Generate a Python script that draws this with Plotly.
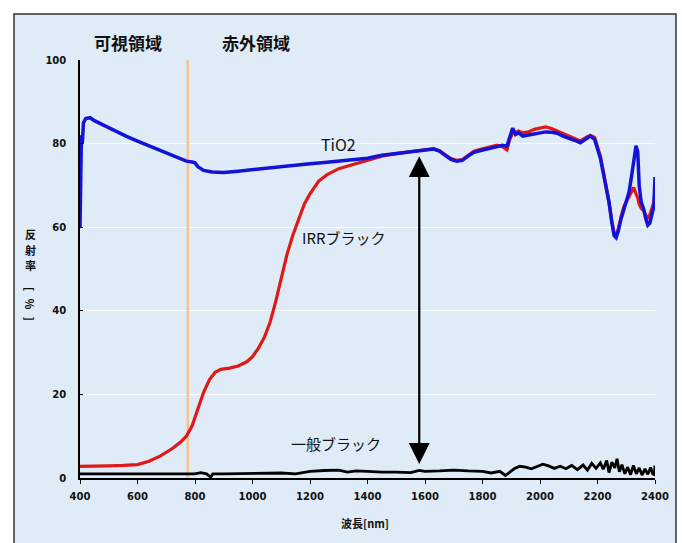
import plotly.graph_objects as go

# Reflectance spectra (wavelength in nm, reflectance in %)
tio2_wl = [400, 402, 405, 408, 412, 420, 435, 450, 470, 500, 530, 560, 600, 640, 680, 720, 750, 770,
           790, 800, 810, 830, 860, 900, 950, 1000, 1050, 1100, 1150, 1200, 1250, 1300, 1350, 1400,
           1450, 1500, 1550, 1600, 1630, 1650, 1670, 1690, 1710, 1730, 1750, 1770, 1790, 1810, 1830,
           1850, 1870, 1885, 1895, 1905, 1915, 1925, 1940, 1960, 1980, 2000, 2020, 2040, 2060, 2080,
           2100, 2120, 2140, 2160, 2175, 2190, 2200, 2210, 2220, 2230, 2240, 2250, 2258, 2265, 2272,
           2282, 2292, 2300, 2310, 2318, 2326, 2334, 2340, 2345, 2352, 2360, 2368, 2375, 2382, 2390,
           2396, 2400]
tio2_r = [60.0, 78.0, 82.0, 80.0, 85.0, 86.0, 86.2, 85.5, 84.8, 83.8, 82.8, 81.8, 80.6, 79.5, 78.2,
          77.2, 76.3, 75.8, 75.6, 75.4, 74.5, 73.6, 73.2, 73.1, 73.4, 73.8, 74.2, 74.5, 74.8, 75.2,
          75.5, 75.8, 76.1, 76.5, 77.2, 77.6, 78.1, 78.5, 78.7, 78.2, 77.2, 76.2, 75.8, 76.0, 77.0,
          77.9, 78.3, 78.6, 79.0, 79.3, 79.6, 79.4, 81.5, 83.7, 82.2, 82.6, 81.8, 82.0, 82.4, 82.6,
          82.8, 82.7, 82.5, 81.8, 81.4, 80.8, 80.2, 81.2, 81.8, 81.0, 79.0, 76.5, 73.0, 69.5, 66.0,
          61.0, 58.0, 57.5, 59.0, 62.0, 64.5, 66.0, 68.5, 72.0, 75.5, 79.5, 78.0, 70.0, 66.0, 64.5,
          62.0, 60.5, 61.0, 63.0, 65.0, 72.0]

irr_wl = [400, 450, 500, 550, 600, 640, 680, 720, 750, 770, 790, 810, 830, 850, 870, 890, 920, 950,
          980, 1000, 1020, 1040, 1060, 1080, 1100, 1120, 1140, 1160, 1180, 1200, 1230, 1260, 1300,
          1350, 1400, 1450, 1500, 1550, 1600, 1630, 1650, 1670, 1690, 1710, 1730, 1750, 1770, 1790,
          1810, 1830, 1850, 1870, 1885, 1895, 1905, 1915, 1925, 1940, 1960, 1980, 2000, 2020, 2040,
          2060, 2080, 2100, 2120, 2140, 2160, 2175, 2190, 2200, 2210, 2220, 2230, 2240, 2250, 2258,
          2265, 2272, 2282, 2292, 2300, 2310, 2318, 2326, 2334, 2340, 2345, 2352, 2360, 2368, 2375,
          2382, 2390, 2396, 2400]
irr_r = [2.8, 2.8, 2.9, 3.0, 3.2, 4.0, 5.3, 7.0, 8.6, 10.0, 12.5, 16.5, 20.5, 23.5, 25.3, 26.0,
         26.3, 26.8, 27.8, 29.0, 31.0, 33.5, 37.0, 42.0, 48.0, 53.5, 58.0, 62.0, 65.5, 68.0, 71.0,
         72.6, 74.0, 75.0, 76.0, 77.0, 77.6, 78.1, 78.6, 78.8, 78.3, 77.4, 76.4, 76.0, 76.2, 77.2,
         78.2, 78.6, 79.0, 79.4, 79.6, 79.2, 78.5, 81.0, 82.5, 82.6, 83.0, 82.6, 82.8, 83.4, 83.8,
         84.0, 83.6, 83.0, 82.2, 81.6, 81.0, 80.6, 81.5, 82.0, 81.5, 79.5, 77.0, 73.5, 70.0, 66.0,
         61.5, 58.5, 58.0, 59.5, 62.5, 65.0, 66.0, 67.5, 68.5, 69.5, 68.0, 67.0, 65.5, 64.5, 64.0,
         63.0, 62.0, 63.0, 65.0, 66.0, 68.0]

black_wl = [400, 500, 600, 700, 800, 820, 840, 855, 862, 900, 1000, 1100, 1150, 1200, 1250, 1300,
            1330, 1360, 1400, 1450, 1500, 1550, 1580, 1600, 1650, 1700, 1750, 1800, 1830, 1860,
            1880, 1895, 1910, 1930, 1950, 1970, 1990, 2010, 2030, 2050, 2070, 2090, 2110, 2130,
            2150, 2165, 2180, 2195, 2210, 2220, 2232, 2240, 2250, 2260, 2268, 2276, 2285, 2295,
            2305, 2315, 2325, 2335, 2345, 2355, 2365, 2375, 2385, 2392, 2398, 2400]
black_r = [1.0, 1.0, 1.0, 1.0, 1.0, 1.3, 1.0, 0.2, 1.0, 1.0, 1.1, 1.2, 1.0, 1.6, 1.8, 1.9, 1.4,
           1.7, 1.6, 1.4, 1.4, 1.3, 1.8, 1.6, 1.7, 1.9, 1.7, 1.6, 1.2, 1.6, 0.6, 1.5, 2.2, 2.8,
           2.6, 2.2, 2.7, 3.3, 2.9, 2.3, 2.8, 2.2, 3.0, 2.0, 3.1, 1.9, 3.5, 2.3, 3.6, 2.1, 4.2,
           1.3, 3.8, 2.4, 4.6, 1.5, 3.2, 1.0, 2.6, 0.8, 3.0, 1.0, 2.4, 0.7, 2.2, 0.9, 2.5, 1.0,
           0.8, 3.0]

x_ticks = [400, 600, 800, 1000, 1200, 1400, 1600, 1800, 2000, 2200, 2400]
y_ticks = [0, 20, 40, 60, 80, 100]
boundary_nm = 775        # visible / infrared boundary
arrow_nm = 1580
arrow_range = [3, 77]

JP = "Noto Sans CJK JP"
BG = "#dfebf6"

fig = go.Figure()

# visible / infrared boundary line
fig.add_trace(go.Scatter(x=[boundary_nm, boundary_nm], y=[0, 100], mode="lines",
                         line=dict(color="#f6c48e", width=2.5), hoverinfo="skip"))
fig.add_trace(go.Scatter(x=black_wl, y=black_r, mode="lines", name="一般ブラック",
                         line=dict(color="#000000", width=2.8)))
fig.add_trace(go.Scatter(x=irr_wl, y=irr_r, mode="lines", name="IRRブラック",
                         line=dict(color="#e01818", width=3.2)))
fig.add_trace(go.Scatter(x=tio2_wl, y=tio2_r, mode="lines", name="TiO2",
                         line=dict(color="#1212d8", width=3.5)))

tick_font = dict(family="DejaVu Sans", size=10, color="#111111", weight="bold")

fig.update_layout(
    width=682, height=543,
    margin=dict(l=80, r=27, t=60, b=65),
    paper_bgcolor="#ffffff",
    plot_bgcolor="rgba(0,0,0,0)",
    showlegend=False,
    xaxis=dict(range=[400, 2400], tickvals=x_ticks, ticks="outside", ticklen=4,
               tickcolor="#000", showline=True, linecolor="#000", linewidth=1.5,
               showgrid=False, zeroline=False, tickfont=tick_font, ticklabelstandoff=4),
    yaxis=dict(range=[0, 100], tickvals=y_ticks, ticks="inside", ticklen=3,
               tickcolor="#000", showline=True, linecolor="#000", linewidth=1.5,
               showgrid=True, gridcolor="rgba(255,255,255,0.8)", gridwidth=1,
               zeroline=False, tickfont=tick_font, ticklabelstandoff=10),
    shapes=[
        # outer panel
        dict(type="rect", xref="paper", yref="paper", x0=-0.1148, x1=1.0365, y0=-0.2, y1=1.110,
             fillcolor=BG, line=dict(color="#333333", width=1.5), layer="below"),
    ],
)

annotations = [
    dict(text="可視領域", x=128, y=43, font=dict(family=JP, size=17, color="#111", weight="bold")),
    dict(text="赤外領域", x=256, y=43, font=dict(family=JP, size=17, color="#111", weight="bold")),
    dict(text="波長[nm]", x=365, y=523, font=dict(family=JP, size=11, color="#111", weight="bold")),
    dict(text="反", x=30, y=234, font=dict(family=JP, size=11, color="#111", weight="bold")),
    dict(text="射", x=30, y=250, font=dict(family=JP, size=11, color="#111", weight="bold")),
    dict(text="率", x=30, y=265, font=dict(family=JP, size=11, color="#111", weight="bold")),
    dict(text="[   %   ]", x=30, y=304, textangle=90,
         font=dict(family=JP, size=11, color="#111", weight="bold")),
]
for a in annotations:
    fig.add_annotation(xref="paper", yref="paper", showarrow=False,
                       x=(a.pop("x") - 80) / 575, y=(478 - a.pop("y")) / 418,
                       xanchor="center", yanchor="middle", **a)

# series labels in data coordinates
fig.add_annotation(x=1300, y=80.0, text="TiO2", showarrow=False,
                   font=dict(family=JP, size=16, color="#111"))
fig.add_annotation(x=1315, y=57.5, text="IRRブラック", showarrow=False,
                   font=dict(family=JP, size=15, color="#111"))
fig.add_annotation(x=1290, y=8.2, text="一般ブラック", showarrow=False,
                   font=dict(family=JP, size=15, color="#111"))

# double-headed arrow between the black pigments
fig.add_annotation(x=arrow_nm, y=arrow_range[1], ax=arrow_nm, ay=arrow_range[0],
                   xref="x", yref="y", axref="x", ayref="y", text="",
                   showarrow=True, arrowhead=2, startarrowhead=2, arrowside="end+start",
                   arrowsize=1.9, startarrowsize=1.9, arrowwidth=2.2, arrowcolor="#000")

fig.write_html("out.html")
